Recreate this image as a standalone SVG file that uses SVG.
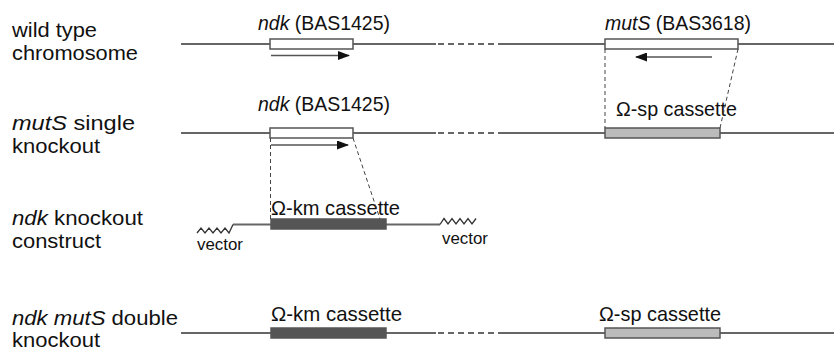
<svg xmlns="http://www.w3.org/2000/svg" width="834" height="352" viewBox="0 0 834 352">
<style>
text{font-family:"Liberation Sans",Arial,sans-serif;fill:#111}
.lab{font-size:20px}
.gl{font-size:21px}
.vec{font-size:17px}
.it{font-style:italic}
.chr{stroke:#666;stroke-width:2;fill:none}
.dash{stroke:#666;stroke-width:2;fill:none;stroke-dasharray:6,4}
.box{stroke:#555;stroke-width:1.5}
.open{fill:#fff}
.km{fill:#555}
.sp{fill:#bbb}
.arr{stroke:#555;stroke-width:1.6;fill:none}
.proj{stroke:#444;stroke-width:1;fill:none;stroke-dasharray:4,3}
.wave{stroke:#333;stroke-width:1.3;fill:none}
</style>
<defs>
<marker id="ah" markerWidth="12" markerHeight="9" refX="11" refY="4.5" orient="auto" markerUnits="userSpaceOnUse">
<path d="M0,0 L12,4.5 L0,9 Z" fill="#111"/>
</marker>
</defs>
<rect width="834" height="352" fill="#fff"/>

<g id="row-labels">
<g id="label-wildtype">
<text class="lab" x="12" y="37" textLength="85" lengthAdjust="spacingAndGlyphs">wild type</text>
<text class="lab" x="12" y="60" textLength="126" lengthAdjust="spacingAndGlyphs">chromosome</text>
</g>
<g id="label-muts-single">
<text class="lab" x="12" y="130" textLength="123" lengthAdjust="spacingAndGlyphs"><tspan class="it">mutS</tspan> single</text>
<text class="lab" x="12" y="153" textLength="88" lengthAdjust="spacingAndGlyphs">knockout</text>
</g>
<g id="label-ndk-construct">
<text class="lab" x="12" y="225" textLength="131" lengthAdjust="spacingAndGlyphs"><tspan class="it">ndk</tspan> knockout</text>
<text class="lab" x="12" y="248" textLength="89" lengthAdjust="spacingAndGlyphs">construct</text>
</g>
<g id="label-double">
<text class="lab" x="12" y="325" textLength="166" lengthAdjust="spacingAndGlyphs"><tspan class="it">ndk mutS</tspan> double</text>
<text class="lab" x="12" y="347" textLength="88" lengthAdjust="spacingAndGlyphs">knockout</text>
</g>
</g>

<g id="chromosomes">
<g id="chr-wildtype">
<path class="chr" d="M181,44 H436 M498,44 H834"/>
<path class="dash" d="M438,44 H498"/>
</g>
<g id="chr-muts-single">
<path class="chr" d="M181,133 H436 M498,133 H834"/>
<path class="dash" d="M438,133 H498"/>
</g>
<g id="construct">
<path class="chr" d="M233,224.5 H440"/>
<polyline class="wave" points="197,233 201,228 205,233 209,228 213,233 217,228 221,233 225,228 229,233 233,224.5"/>
<polyline class="wave" points="440,224.5 444,218.5 448,224 452,218.5 456,224 460,218.5 464,224 468,218.5 472,224 476,218.5"/>
<text class="vec" x="197" y="250" textLength="46" lengthAdjust="spacingAndGlyphs">vector</text>
<text class="vec" x="442" y="244" textLength="46" lengthAdjust="spacingAndGlyphs">vector</text>
</g>
<g id="chr-double">
<path class="chr" d="M181,333 H436 M498,333 H834"/>
<path class="dash" d="M438,333 H498"/>
</g>
</g>

<g id="ndk-wt">
<text class="gl" x="258" y="30" textLength="132" lengthAdjust="spacingAndGlyphs"><tspan class="it">ndk</tspan> (BAS1425)</text>
<rect class="box open" x="270" y="39" width="83" height="10"/>
<line class="arr" x1="271" y1="55.5" x2="349" y2="55.5" marker-end="url(#ah)"/>
</g>
<g id="muts-wt">
<text class="gl" x="605" y="30" textLength="146" lengthAdjust="spacingAndGlyphs"><tspan class="it">mutS</tspan> (BAS3618)</text>
<rect class="box open" x="605" y="39" width="133" height="10"/>
<line class="arr" x1="712" y1="57" x2="636" y2="57" marker-end="url(#ah)"/>
</g>
<g id="ndk-single">
<text class="gl" x="258" y="111" textLength="132" lengthAdjust="spacingAndGlyphs"><tspan class="it">ndk</tspan> (BAS1425)</text>
<rect class="box open" x="270" y="128" width="83" height="10"/>
<line class="arr" x1="271" y1="145" x2="348" y2="145" marker-end="url(#ah)"/>
</g>
<g id="sp-single">
<text class="gl" x="616" y="116" textLength="121" lengthAdjust="spacingAndGlyphs">Ω-sp cassette</text>
<rect class="box sp" x="605" y="128" width="115" height="10"/>
</g>
<g id="km-construct">
<text class="gl" x="271" y="215" textLength="129" lengthAdjust="spacingAndGlyphs">Ω-km cassette</text>
<rect class="box km" x="271" y="219" width="115" height="10"/>
</g>
<g id="km-double">
<text class="gl" x="271" y="321" textLength="131" lengthAdjust="spacingAndGlyphs">Ω-km cassette</text>
<rect class="box km" x="271" y="328" width="115" height="10"/>
</g>
<g id="sp-double">
<text class="gl" x="599" y="321" textLength="122" lengthAdjust="spacingAndGlyphs">Ω-sp cassette</text>
<rect class="box sp" x="605" y="328" width="115" height="10"/>
</g>

<g id="connectors">
<path class="proj" d="M605,49 V128"/>
<path class="proj" d="M738,49 L720,128"/>
<path class="proj" d="M270.5,138 V219"/>
<path class="proj" d="M353,138 L380,219"/>
</g>
</svg>
